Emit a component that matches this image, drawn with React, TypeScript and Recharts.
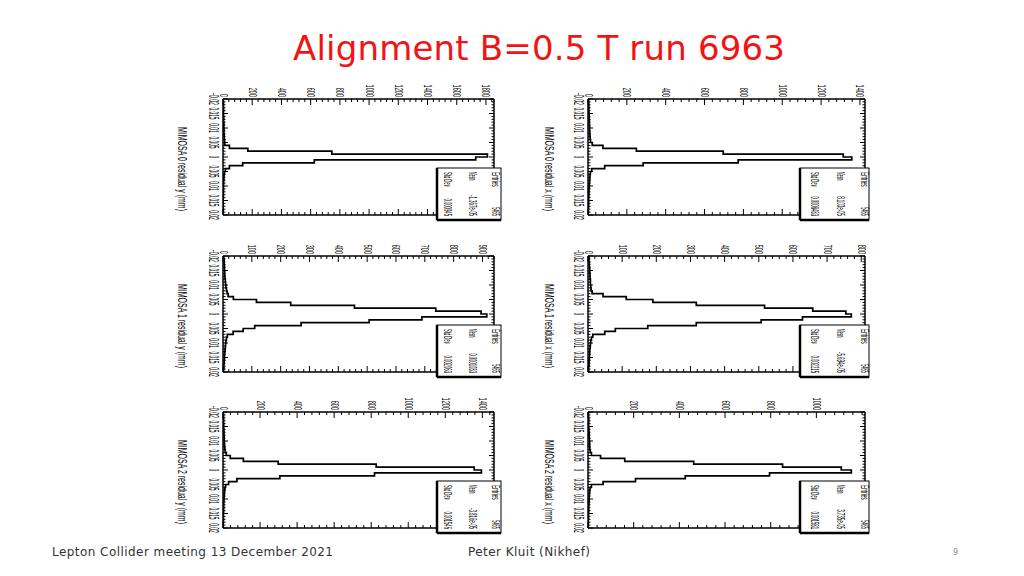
import React from "react";
import { LineChart, Line, XAxis, YAxis } from "recharts";

// 40 residual bins of 0.001 mm, from -0.02 to 0.02 (bin 0 = -0.020 .. -0.019)
const binLow = -0.02;
const binWidth = 0.001;

// entries per bin
const mimosa0yCounts = [2, 3, 2, 4, 3, 3, 5, 4, 6, 5, 7, 6, 8, 9, 11, 12, 44, 170, 745, 1810, 1730, 625, 135, 44, 16, 10, 7, 6, 4, 4, 3, 3, 2, 2, 1, 1, 0, 1, 0, 0];
const mimosa0xCounts = [3, 4, 4, 5, 5, 6, 6, 7, 7, 8, 8, 9, 10, 11, 13, 22, 77, 249, 696, 1314, 1358, 773, 284, 86, 19, 12, 10, 9, 8, 7, 6, 5, 5, 4, 4, 3, 3, 2, 2, 1];
const mimosa1yCounts = [3, 4, 4, 5, 5, 6, 6, 7, 8, 9, 10, 12, 14, 18, 36, 116, 235, 456, 738, 895, 915, 690, 507, 271, 110, 70, 35, 15, 12, 10, 9, 8, 7, 6, 5, 5, 4, 3, 3, 2];
const mimosa1xCounts = [3, 3, 4, 4, 5, 5, 6, 6, 7, 7, 8, 9, 12, 44, 112, 190, 317, 517, 658, 755, 771, 628, 507, 317, 175, 80, 49, 14, 10, 8, 7, 6, 5, 5, 4, 4, 3, 3, 2, 2];
const mimosa2yCounts = [2, 3, 3, 3, 4, 4, 5, 5, 6, 6, 7, 8, 10, 12, 18, 39, 110, 298, 827, 1356, 1395, 818, 307, 75, 30, 14, 10, 8, 7, 6, 5, 4, 4, 3, 3, 2, 2, 2, 1, 1];
const mimosa2xCounts = [2, 2, 3, 3, 3, 4, 4, 5, 5, 6, 7, 7, 8, 10, 15, 55, 161, 463, 852, 1109, 1153, 795, 426, 208, 66, 15, 9, 7, 6, 5, 5, 4, 3, 3, 3, 2, 2, 1, 1, 1];

// count axis: labelled ticks and frame maximum
const ticks0y = [0, 200, 400, 600, 800, 1000, 1200, 1400, 1600, 1800];
const ticks0x = [0, 200, 400, 600, 800, 1000, 1200, 1400];
const ticks1y = [0, 100, 200, 300, 400, 500, 600, 700, 800, 900];
const ticks1x = [0, 100, 200, 300, 400, 500, 600, 700, 800];
const ticks2y = [0, 200, 400, 600, 800, 1000, 1200, 1400];
const ticks2x = [0, 200, 400, 600, 800, 1000];
const countMax = [1855, 1426, 940, 811, 1463, 1213];

// residual axis
const resMajors = [-0.02, -0.015, -0.01, -0.005, 0, 0.005, 0.01, 0.015, 0.02];
const resLabels = ["-0.02", "0.015", "0.01", "0.005", "0", "0.005", "0.01", "0.015", "0.02"];

const axisTitles = [
  "MIMOSA 0 residual y (mm)",
  "MIMOSA 0 residual x (mm)",
  "MIMOSA 1 residual y (mm)",
  "MIMOSA 1 residual x (mm)",
  "MIMOSA 2 residual y (mm)",
  "MIMOSA 2 residual x (mm)",
];
const entries = ["5465", "5465", "5465", "5465", "5465", "5465"];
const means = ["-1.367e-05", "8.103e-05", "0.0001033", "-5.694e-05", "-3.816e-05", "3.735e-05"];
const stdDevs = ["0.000945", "0.0008483", "0.002063", "0.002215", "0.001546", "0.001581"];

const LABEL_FONT = "'Liberation Sans', Arial, sans-serif";
const SLIDE_FONT = "'DejaVu Sans', Verdana, sans-serif";

const PAD_L = 48;
const PAD_T = 26;
const PAD_R = 6;
const PAD_B = 24;

const leftCol = { x: 223, w: 271, title: 178, box: { dx: -57, w: 64, cols: [8, 33, 56] } };
const rightCol = { x: 588, w: 277, title: 545, box: { dx: -65, w: 69, cols: [12, 38, 62] } };
const rows = [99, 256, 412];
const frameH = 116;

const panels = [
  { counts: mimosa0yCounts, majors: ticks0y, minor: 40, col: leftCol, row: 0 },
  { counts: mimosa0xCounts, majors: ticks0x, minor: 40, col: rightCol, row: 0 },
  { counts: mimosa1yCounts, majors: ticks1y, minor: 20, col: leftCol, row: 1 },
  { counts: mimosa1xCounts, majors: ticks1x, minor: 20, col: rightCol, row: 1 },
  { counts: mimosa2yCounts, majors: ticks2y, minor: 40, col: leftCol, row: 2 },
  { counts: mimosa2xCounts, majors: ticks2x, minor: 40, col: rightCol, row: 2 },
];

// text turned 90deg clockwise and squeezed along its reading direction to `len` px
function VText({ x, y, anchor, size, len, children, fill = "#000", family = LABEL_FONT }: any) {
  const s = String(children);
  const natural = Math.max(s.length * size * 0.53, 1);
  const sx = len / natural;
  return (
    <text
      x={0}
      y={0}
      transform={`translate(${x} ${y}) rotate(90) scale(${sx} 1)`}
      textAnchor={anchor}
      fontSize={size}
      fontFamily={family}
      textLength={natural}
      lengthAdjust="spacingAndGlyphs"
      fill={fill}
    >
      {s}
    </text>
  );
}

const isOne = (list: number[], v: number) => list.findIndex((m) => Math.abs(m - v) < 1e-9);

function Histo({ counts, majors, minor, max, frame }: any) {
  const data: { c: number; r: number }[] = [{ c: 0, r: binLow }];
  counts.forEach((v: number, i: number) => {
    data.push({ c: v, r: binLow + i * binWidth });
    data.push({ c: v, r: binLow + (i + 1) * binWidth });
  });
  data.push({ c: 0, r: binLow + counts.length * binWidth });

  const countTicks: number[] = [];
  for (let i = 0; i * minor <= max; i++) countTicks.push(i * minor);
  const resTicks: number[] = [];
  for (let i = 0; i <= 40; i++) resTicks.push(Math.round((binLow + i * binWidth) * 1e6) / 1e6);

  const topTick = (p: any) => {
    const { x, y, payload } = p;
    const k = isOne(majors, payload.value);
    const s = String(payload.value);
    return (
      <g>
        <line x1={x} y1={y} x2={x} y2={y + (k >= 0 ? 6 : 3)} stroke="#000" strokeWidth={1} />
        {k >= 0 && (
          <VText x={x - 3.5} y={y - 2} anchor="end" size={10} len={s.length * 3.1}>
            {s}
          </VText>
        )}
      </g>
    );
  };
  const bottomTick = (p: any) => {
    const { x, y, payload } = p;
    const k = isOne(majors, payload.value);
    return <line x1={x} y1={y} x2={x} y2={y - (k >= 0 ? 6 : 3)} stroke="#000" strokeWidth={1} />;
  };
  const leftTick = (p: any) => {
    const { x, y, payload } = p;
    const k = isOne(resMajors, payload.value);
    return (
      <g>
        <line x1={x} y1={y} x2={x + (k >= 0 ? 5 : 2.5)} y2={y} stroke="#000" strokeWidth={1} />
        {k >= 0 && (
          <VText x={x - 14} y={y} anchor="middle" size={15} len={resLabels[k].length * 2.4}>
            {resLabels[k]}
          </VText>
        )}
      </g>
    );
  };
  const rightTick = (p: any) => {
    const { x, y, payload } = p;
    const k = isOne(resMajors, payload.value);
    return <line x1={x} y1={y} x2={x - (k >= 0 ? 5 : 2.5)} y2={y} stroke="#000" strokeWidth={1} />;
  };

  const frameLine = { stroke: "#000", strokeWidth: 1.5 };

  return (
    <div style={{ position: "absolute", left: frame.x - PAD_L, top: frame.y - PAD_T }}>
      <LineChart
        width={frame.w + PAD_L + PAD_R}
        height={frame.h + PAD_T + PAD_B}
        data={data}
        margin={{ top: 0, right: 0, bottom: 0, left: 0 }}
      >
        <XAxis
          xAxisId="top"
          orientation="top"
          type="number"
          dataKey="c"
          domain={[0, max]}
          allowDataOverflow
          ticks={countTicks}
          interval={0}
          height={PAD_T}
          tickSize={0}
          tickMargin={0}
          tickLine={false}
          axisLine={frameLine}
          tick={topTick}
        />
        <XAxis
          xAxisId="bot"
          orientation="bottom"
          type="number"
          dataKey="c"
          domain={[0, max]}
          allowDataOverflow
          ticks={countTicks}
          interval={0}
          height={PAD_B}
          tickSize={0}
          tickMargin={0}
          tickLine={false}
          axisLine={frameLine}
          tick={bottomTick}
        />
        <YAxis
          yAxisId="left"
          orientation="left"
          type="number"
          dataKey="r"
          domain={[-0.02, 0.02]}
          reversed
          allowDataOverflow
          ticks={resTicks}
          interval={0}
          width={PAD_L}
          tickSize={0}
          tickMargin={0}
          tickLine={false}
          axisLine={frameLine}
          tick={leftTick}
        />
        <YAxis
          yAxisId="right"
          orientation="right"
          type="number"
          dataKey="r"
          domain={[-0.02, 0.02]}
          reversed
          allowDataOverflow
          ticks={resTicks}
          interval={0}
          width={PAD_R}
          tickSize={0}
          tickMargin={0}
          tickLine={false}
          axisLine={frameLine}
          tick={rightTick}
        />
        <Line
          xAxisId="top"
          yAxisId="left"
          type="linear"
          dataKey="r"
          stroke="#000"
          strokeWidth={1.7}
          dot={false}
          activeDot={false}
          isAnimationActive={false}
        />
      </LineChart>
    </div>
  );
}

function StatsBox({ i, frame, col }: any) {
  const b = col.box;
  const x = frame.x + frame.w + b.dx;
  const y = frame.y + 69;
  const h = 52;
  const rows3 = [
    ["Std Dev", stdDevs[i]],
    ["Mean", means[i]],
    ["Entries", entries[i]],
  ];
  return (
    <g>
      <rect x={x} y={y} width={b.w} height={h} fill="#fff" stroke="#000" strokeWidth={1} />
      <line x1={x} y1={y} x2={x} y2={y + h} stroke="#000" strokeWidth={2.5} />
      <line x1={x} y1={y + h} x2={x + b.w} y2={y + h} stroke="#000" strokeWidth={2.5} />
      {rows3.map(([label, value], j) => (
        <g key={label}>
          <VText x={x + b.cols[j] - 1} y={y + 4} anchor="start" size={10} len={label.length * 2.1}>
            {label}
          </VText>
          <VText x={x + b.cols[j] - 1} y={y + h - 4} anchor="end" size={10} len={Math.min(value.length * 2.2, 21)}>
            {value}
          </VText>
        </g>
      ))}
    </g>
  );
}

export default function App() {
  const frames = panels.map((p) => ({ x: p.col.x, y: rows[p.row], w: p.col.w, h: frameH }));
  return (
    <div style={{ position: "absolute", left: 0, top: 0, width: 1024, height: 576, background: "#fff", overflow: "hidden" }}>
      {panels.map((p, i) => (
        <Histo key={i} counts={p.counts} majors={p.majors} minor={p.minor} max={countMax[i]} frame={frames[i]} />
      ))}
      <svg width={1024} height={576} style={{ position: "absolute", left: 0, top: 0, pointerEvents: "none" }}>
        <text x={539} y={60} textAnchor="middle" fontSize={34} fontFamily={SLIDE_FONT} fill="#f01414" textLength={492}>
          Alignment B=0.5 T run 6963
        </text>
        {panels.map((p, i) => (
          <g key={i}>
            <VText x={p.col.title} y={frames[i].y + frames[i].h - 4} anchor="end" size={13} len={84}>
              {axisTitles[i]}
            </VText>
            <StatsBox i={i} frame={frames[i]} col={p.col} />
          </g>
        ))}
        <text x={52} y={556} fontSize={12} fontFamily={SLIDE_FONT} fill="#333" textLength={281}>
          Lepton Collider meeting 13 December 2021
        </text>
        <text x={468} y={556} fontSize={12} fontFamily={SLIDE_FONT} fill="#333" textLength={122}>
          Peter Kluit (Nikhef)
        </text>
        <text x={953} y={555} fontSize={8} fontFamily={SLIDE_FONT} fill="#888">
          9
        </text>
      </svg>
    </div>
  );
}
